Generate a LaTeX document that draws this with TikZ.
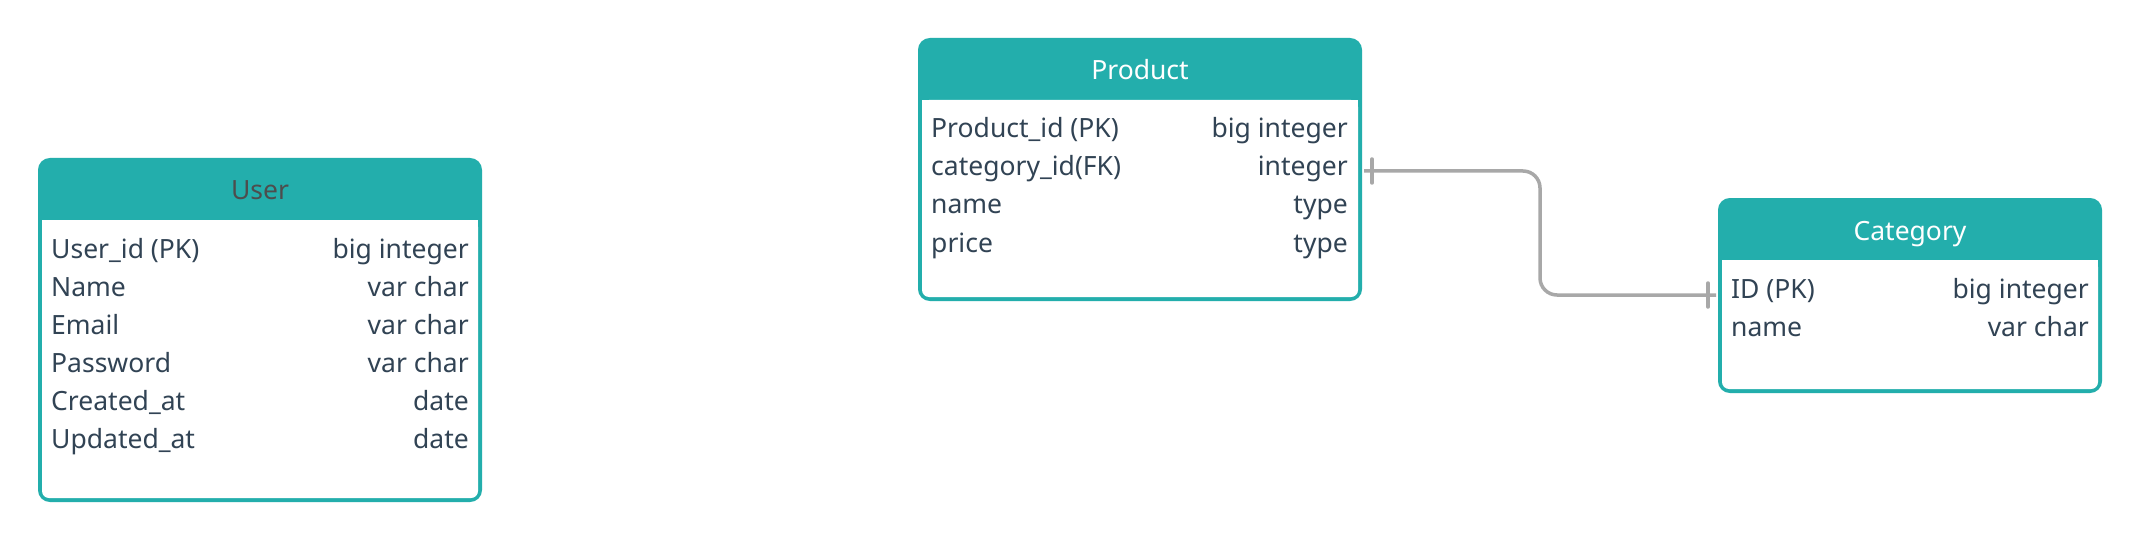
\documentclass[tikz,border=0pt]{standalone}
\usepackage{fontspec}
\setmainfont{Noto Sans}
\usetikzlibrary{calc}
\definecolor{teal1}{HTML}{23AEAC}
\definecolor{rowtext}{HTML}{314354}
\definecolor{titlegray}{HTML}{4D4D4D}
\definecolor{conngray}{HTML}{A8A8A8}
\begin{document}
\begin{tikzpicture}[x=1pt,y=-1pt,
  tbl/.style={draw=teal1, fill=teal1, line width=4pt, rounded corners=10pt, inner sep=0pt},
  body/.style={fill=white, rounded corners=7pt},
  rowl/.style={anchor=base west, inner sep=0pt, text=rowtext, font=\fontsize{26.5}{30}\selectfont},
  rowr/.style={anchor=base east, inner sep=0pt, text=rowtext, font=\fontsize{26.5}{30}\selectfont},
  ttl/.style={anchor=base, inner sep=0pt, font=\fontsize{26.5}{30}\selectfont},
  conn/.style={draw=conngray, line width=3.5pt, rounded corners=17pt},
  tick/.style={draw=conngray, line width=3.5pt, line cap=round}]
\useasboundingbox[fill=white] (0,0) rectangle (2140,540);

% ---------- User ----------
\node[tbl, minimum width=440pt, minimum height=340pt] (user) at (260,330) {};
\fill[body] (42,220) -- (42,498) -- (478,498) -- (478,220) -- cycle;
\fill[white] (42,220) rectangle (478,240);
\node[ttl, text=titlegray] (usert) at (260,200) {User};
\node[rowl] (u1l) at (51,258) {User\_id (PK)};
\node[rowr] (u1r) at (469,258) {big integer};
\node[rowl] (u2l) at (51,296) {Name};
\node[rowr] (u2r) at (469,296) {var char};
\node[rowl] (u3l) at (51,334) {Email};
\node[rowr] (u3r) at (469,334) {var char};
\node[rowl] (u4l) at (51,372) {Password};
\node[rowr] (u4r) at (469,372) {var char};
\node[rowl] (u5l) at (51,410) {Created\_at};
\node[rowr] (u5r) at (469,410) {date};
\node[rowl] (u6l) at (51,448) {Updated\_at};
\node[rowr] (u6r) at (469,448) {date};

% ---------- Product ----------
\node[tbl, minimum width=440pt, minimum height=259pt] (prod) at (1140,169.5) {};
\fill[body] (922,100) -- (922,297) -- (1358,297) -- (1358,100) -- cycle;
\fill[white] (922,100) rectangle (1358,120);
\node[ttl, text=white] (prodt) at (1140,80) {Product};
\node[rowl] (p1l) at (931,138) {Product\_id (PK)};
\node[rowr] (p1r) at (1348,138) {big integer};
\node[rowl] (p2l) at (931,176) {category\_id(FK)};
\node[rowr] (p2r) at (1348,176) {integer};
\node[rowl] (p3l) at (931,214) {name};
\node[rowr] (p3r) at (1348,214) {type};
\node[rowl] (p4l) at (931,252) {price};
\node[rowr] (p4r) at (1348,252) {type};

% ---------- Category ----------
\node[tbl, minimum width=380pt, minimum height=191pt] (cat) at (1910,295.5) {};
\fill[body] (1722,260) -- (1722,389) -- (2098,389) -- (2098,260) -- cycle;
\fill[white] (1722,260) rectangle (2098,280);
\node[ttl, text=white] (catt) at (1910,240) {Category};
\node[rowl] (c1l) at (1731,298) {ID (PK)};
\node[rowr] (c1r) at (2089,298) {big integer};
\node[rowl] (c2l) at (1731,336) {name};
\node[rowr] (c2r) at (2089,336) {var char};

% ---------- connector ----------
\coordinate (cs) at ($(prod.north east)+(2,133)$);
\coordinate (ce) at ($(cat.north west)+(-2,97)$);
\draw[conn] (cs) -- (cs -| 1540,0) -- (ce -| 1540,0) -- (ce);
\draw[tick] ($(cs)+(8,-12)$) -- ($(cs)+(8,12)$);
\draw[tick] ($(ce)+(-8,-12)$) -- ($(ce)+(-8,12)$);
\end{tikzpicture}
\end{document}
